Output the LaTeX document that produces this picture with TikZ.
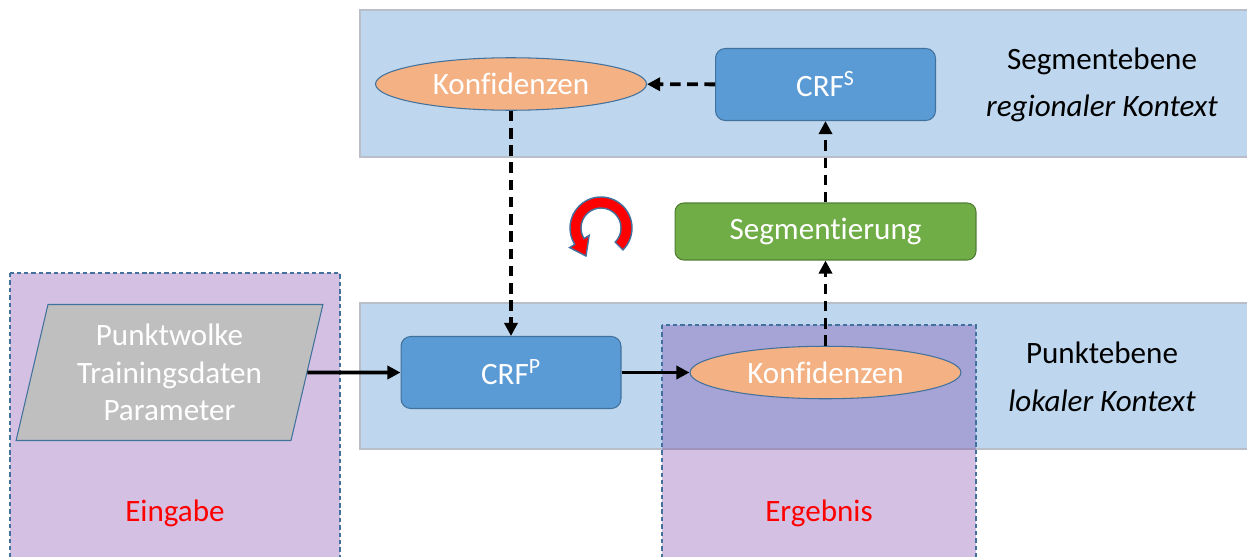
\documentclass[tikz,border=0pt]{standalone}
\usepackage{fontspec}
\setmainfont{Carlito}[Ligatures=NoCommon]
\usetikzlibrary{shapes.geometric,arrows.meta}
\definecolor{bandblue}{RGB}{190,215,238}
\definecolor{bandline}{RGB}{185,190,200}
\definecolor{edgeblue}{RGB}{65,113,156}
\definecolor{crfblue}{RGB}{91,155,213}
\definecolor{konforange}{RGB}{244,177,131}
\definecolor{seggreen}{RGB}{112,173,71}
\definecolor{seggreenline}{RGB}{80,126,50}
\definecolor{areapurple}{RGB}{112,48,160}
\definecolor{datagray}{RGB}{191,191,191}
\begin{document}
\begin{tikzpicture}[x=0.02cm, y=0.02cm, font=\fontsize{17.7}{21.5}\selectfont,
  band/.style={fill=bandblue,draw=bandline,line width=0.6pt},
  area/.style={fill=areapurple,fill opacity=0.3,draw=edgeblue,line width=0.6pt,dash pattern=on 2.5pt off 1.7pt},
  crf/.style={rectangle,rounded corners=5.5pt,fill=crfblue,draw=edgeblue,line width=0.6pt,text=white,minimum width=4.4cm,minimum height=1.44cm},
  conf/.style={ellipse,fill=konforange,draw=edgeblue,line width=0.6pt,text=white,inner sep=0pt,minimum width=5.42cm,minimum height=1.05cm},
  seg/.style={rectangle,rounded corners=5pt,fill=seggreen,draw=seggreenline,line width=0.6pt,text=white,minimum width=6.02cm,minimum height=1.14cm},
  data/.style={trapezium,trapezium left angle=76,trapezium right angle=104,trapezium stretches=true,fill=datagray,draw=edgeblue,line width=0.6pt,text=white,align=center,inner sep=0pt,minimum width=6.14cm,minimum height=2.72cm},
  tag/.style={text=red},
  flow/.style={-{Triangle[length=7.5pt,width=7.5pt]},line width=2.2pt},
  dflow/.style={flow,dash pattern=on 6pt off 3.8pt}]
\useasboundingbox (0,0) rectangle (1247,556);

\draw [band] (360,546) rectangle (1252,399);
\draw [band] (360,253) rectangle (1252,107);
\draw [area] (10,283) rectangle (340,-5);
\draw [area] (662,231) rectangle (976,-5);

\node [crf](crfS) at (825.5,471.5) {CRF\textsuperscript{S}};
\node [conf](konfS) at (511,472) {Konfidenzen};
\node [seg](seg) at (825.5,324.5) {Segmentierung};
\node [crf](crfP) at (511,183.5) {CRF\textsuperscript{P}};
\node [conf](konfP) at (825.5,183.5) {Konfidenzen};
\node [data](input) at (169.5,183.5) {Punktwolke\\Trainingsdaten\\Parameter};

\node [align=center](segLevel) at (1102,471) {Segmentebene\\[5.5pt]\textit{regionaler Kontext}};
\node [align=center](ptLevel) at (1102,179) {Punktebene\\[5.5pt]\textit{lokaler Kontext}};
\node [tag](inTag) at (175,43) {Eingabe};
\node [tag](outTag) at (819,43) {Ergebnis};

\draw [flow] (input) -- (crfP);
\draw [flow] (crfP) -- (konfP);
\draw [dflow] (konfP) -- (seg);
\draw [dflow] (seg) -- (crfS);
\draw [dflow] (crfS) -- (konfS);
\draw [dflow] (konfS) -- (crfP);

\coordinate (turn) at (601,328);
\filldraw [fill=red,draw=edgeblue,line width=0.8pt]
  ([shift={(-45:31)}]turn) arc[start angle=-45,end angle=212,radius=31]
  -- ([shift={(212:37)}]turn) -- ([shift={(-15,-28)}]turn)
  -- ([shift={(212:14)}]turn) -- ([shift={(212:20)}]turn)
  arc[start angle=212,end angle=-45,radius=20] -- cycle;
\end{tikzpicture}
\end{document}
